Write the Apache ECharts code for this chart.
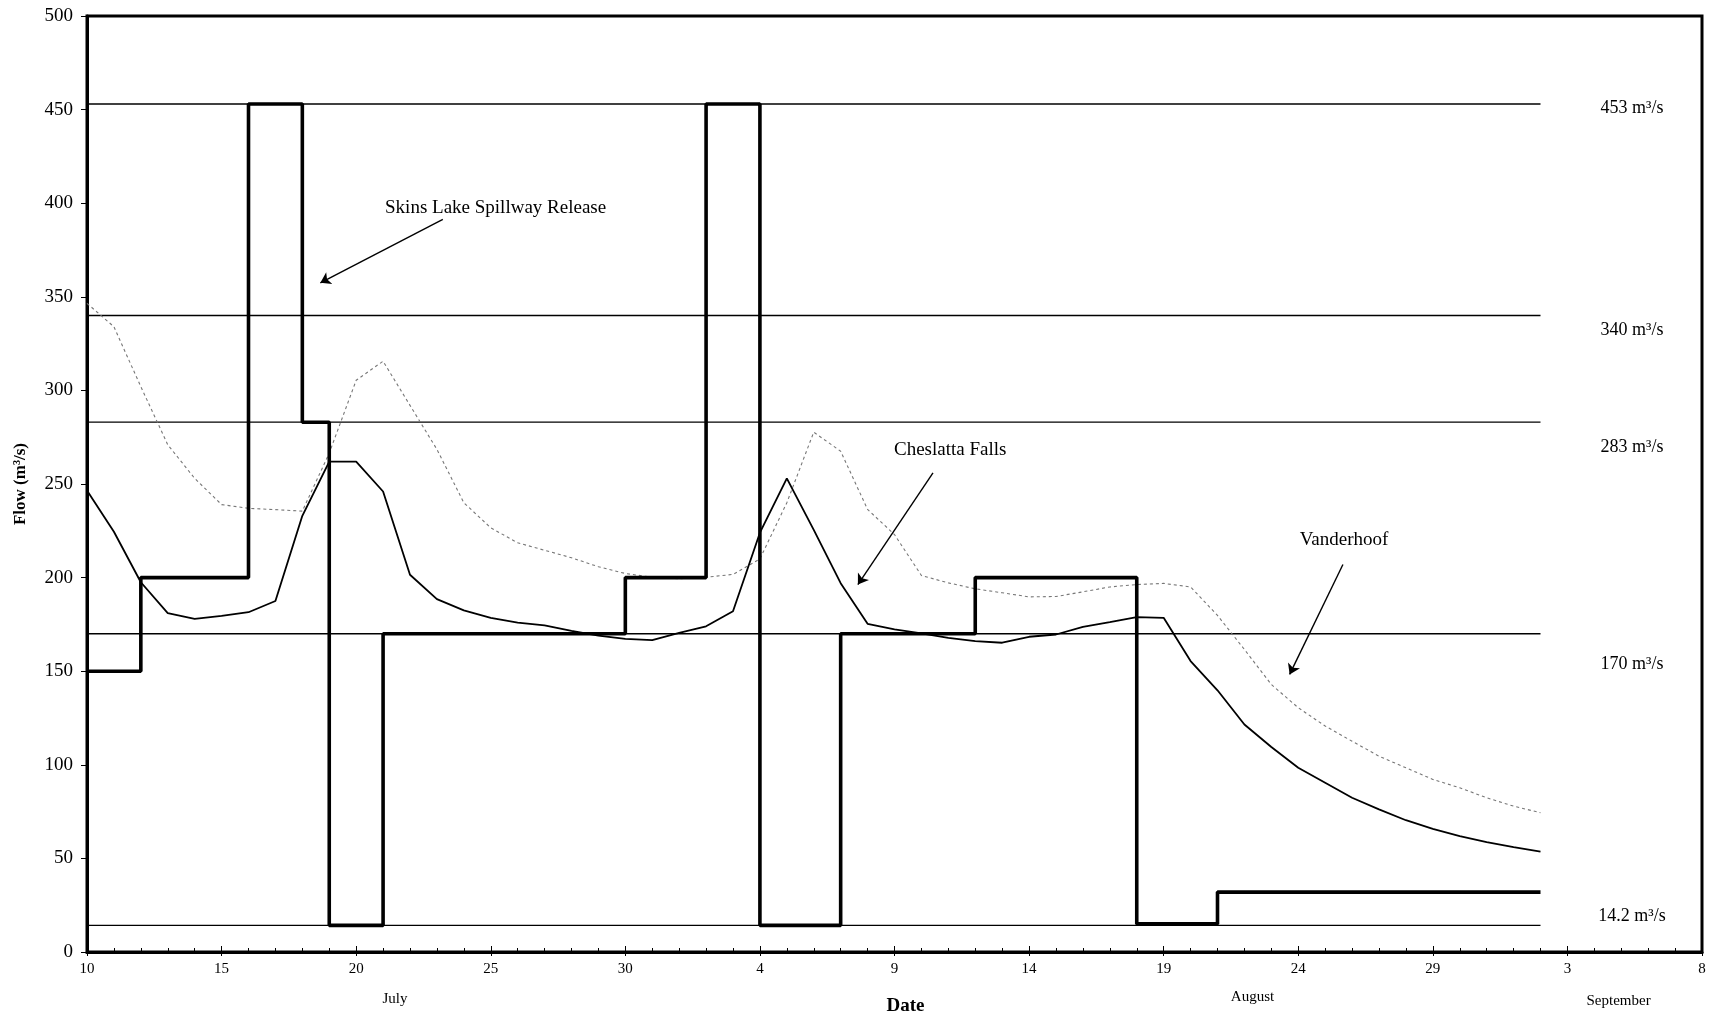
<!DOCTYPE html>
<html>
<head>
<meta charset="utf-8">
<script src="https://cdn.jsdelivr.net/npm/echarts@6/dist/echarts.min.js"></script>
<style>
html,body{margin:0;padding:0;background:#fff;}
#chart{width:1711px;height:1021px;}
</style>
</head>
<body>
<div id="chart"></div>
<script>
// ---- Data (x = days since July 10) ----
const xTickLabels = ['10','15','20','25','30','4','9','14','19','24','29','3','8'];
const monthNames = ['July','August','September'];

// Skins Lake Spillway Release (stepped): start day of each period and its flow
const spillDays   = [0, 2, 6, 8, 9, 11, 20, 23, 25, 28, 33, 39, 42, 54];
const spillFlows  = [150, 200, 453, 283, 14.2, 170, 200, 453, 14.2, 170, 200, 15, 32, 32];

// Cheslatta Falls daily flow (July 10 .. Sept 2)
const cheslatta = [246.5, 224.5, 197.5, 181, 178, 179.5, 181.5, 187.5, 233, 262,
  262, 246, 201.5, 188.5, 182.5, 178.5, 176, 174.5, 171.5, 169,
  167.3, 166.6, 170.5, 174, 182, 224, 253, 225.5, 197, 175.3,
  172.3, 170.2, 167.8, 166.1, 165.2, 168.4, 169.6, 173.7, 176.2, 178.9,
  178.5, 155.4, 139.8, 121.5, 109.5, 98.4, 90.4, 82.4, 76.2, 70.4,
  65.8, 61.9, 58.7, 56, 53.6];

// Vanderhoof daily flow (July 10 .. Sept 2)
const vanderhoof = [346.5, 334, 302, 271, 253, 239, 237, 236.3, 235.5, 266.5,
  305.4, 315.6, 292, 268.5, 240, 226.6, 218.6, 214.6, 210.6, 205.8,
  202.2, 200.2, 199.4, 200.2, 201.7, 210, 240, 277.7, 267.5, 236.4,
  223, 201.1, 197.2, 194, 191.9, 189.7, 189.9, 192.4, 195, 196.3,
  196.9, 195, 179.8, 161.6, 142.9, 130.5, 120.7, 112.6, 104.6, 98.4,
  92.2, 87.7, 82.4, 77.9, 74.4];

// Reference flow levels (m³/s)
const refLevels = [453, 340, 283, 170, 14.2];
const refLabels = ['453 m³/s', '340 m³/s', '283 m³/s', '170 m³/s', '14.2 m³/s'];
const refEndDay = 54;

// ---- Annotation placement (data coordinates) ----
const levelLabelDay = 57.4;
const levelLabelFlow = [450.9, 332, 269.7, 153.6, 19.2];
const notes = [
  {text: 'Skins Lake Spillway Release', day: 15.18, flow: 397.5},
  {text: 'Cheslatta Falls', day: 32.07, flow: 267.9},
  {text: 'Vanderhoof', day: 46.7, flow: 220}
];
const arrows = [
  [[13.22, 391.3], [8.67, 357.5]],
  [[31.43, 256], [28.64, 196.3]],
  [[46.66, 207], [44.68, 148.3]]
];
const monthDays = [11.44, 43.3, 56.9];

const FONT = 'Liberation Serif';
const chart = echarts.init(document.getElementById('chart'), null, {renderer: 'canvas'});

const series = [];
refLevels.forEach((lv, i) => {
  series.push({
    type: 'line', name: refLabels[i], xAxisIndex: 0, yAxisIndex: 0,
    data: [[0, lv], [refEndDay, lv]], showSymbol: false, symbol: 'none',
    lineStyle: {color: '#000', width: 1.3}, silent: true, z: 2, animation: false
  });
});
series.push({
  type: 'line', name: 'Vanderhoof', data: vanderhoof.map((v, i) => [i, v]),
  symbol: 'none', lineStyle: {color: '#777', width: 1.1, type: [3, 3]}, z: 3, animation: false
});
series.push({
  type: 'line', name: 'Cheslatta Falls', data: cheslatta.map((v, i) => [i, v]),
  symbol: 'none', lineStyle: {color: '#000', width: 1.8}, z: 4, animation: false
});
series.push({
  type: 'line', name: 'Skins Lake Spillway Release', step: 'end',
  data: spillDays.map((d, i) => [d, spillFlows[i]]),
  symbol: 'none', lineStyle: {color: '#000', width: 3.6}, z: 5, animation: false
});
series.push({
  type: 'lines', coordinateSystem: 'cartesian2d', xAxisIndex: 0, yAxisIndex: 0,
  data: arrows.map(a => ({coords: a})),
  symbol: ['none', 'arrow'], symbolSize: [0, 10],
  lineStyle: {color: '#000', width: 1.4, opacity: 1}, z: 6, animation: false, silent: true
});

const option = {
  backgroundColor: '#fff',
  animation: false,
  grid: {left: 87, right: 9, top: 16, bottom: 68, show: true,
    borderColor: '#000', borderWidth: 3, backgroundColor: 'transparent'},
  xAxis: [{
    type: 'value', min: 0, max: 60, interval: 5,
    name: 'Date', nameLocation: 'middle', nameGap: 45,
    nameTextStyle: {fontFamily: FONT, fontSize: 19, fontWeight: 'bold', color: '#000',
      padding: [0, 0, 0, 22]},
    axisLine: {show: true, lineStyle: {color: '#000', width: 3}},
    axisTick: {show: true, inside: true, length: 6, lineStyle: {color: '#000', width: 1}},
    minorTick: {show: true, splitNumber: 5, length: 4, lineStyle: {color: '#000', width: 1}},
    axisLabel: {fontFamily: FONT, fontSize: 15, color: '#000', margin: 10,
      formatter: v => xTickLabels[Math.round(v / 5)] || ''},
    splitLine: {show: false}
  }, {
    type: 'value', min: 0, max: 60, interval: 5, position: 'bottom',
    axisLine: {show: false}, axisLabel: {show: false}, splitLine: {show: false},
    axisTick: {show: true, inside: false, length: 4, lineStyle: {color: '#000', width: 1}}
  }],
  yAxis: {
    type: 'value', min: 0, max: 500, interval: 50,
    name: 'Flow (m³/s)', nameLocation: 'middle', nameGap: 58,
    nameTextStyle: {fontFamily: FONT, fontSize: 17, fontWeight: 'bold', color: '#000'},
    axisLine: {show: true, lineStyle: {color: '#000', width: 3}},
    axisTick: {show: true, inside: false, length: 6, lineStyle: {color: '#000', width: 1}},
    axisLabel: {fontFamily: FONT, fontSize: 19, color: '#000', margin: 14},
    splitLine: {show: false}
  },
  series: series
};
chart.setOption(option);

// text annotations placed through the chart's own scales
const graphics = [];
const monthY = [999, 997, 1001];
monthNames.forEach((m, i) => {
  const px = chart.convertToPixel({xAxisIndex: 0}, monthDays[i]);
  graphics.push({type: 'text', x: px, y: monthY[i], z: 10,
    style: {text: m, fontFamily: FONT, fontSize: 15, fill: '#000',
      align: 'center', verticalAlign: 'middle'}});
});
notes.forEach(n => {
  const p = chart.convertToPixel({gridIndex: 0}, [n.day, n.flow]);
  graphics.push({type: 'text', x: p[0], y: p[1], z: 10,
    style: {text: n.text, fontFamily: FONT, fontSize: 19, fill: '#000',
      align: 'center', verticalAlign: 'middle'}});
});
refLabels.forEach((t, i) => {
  const p = chart.convertToPixel({gridIndex: 0}, [levelLabelDay, levelLabelFlow[i]]);
  graphics.push({type: 'text', x: p[0], y: p[1], z: 10,
    style: {text: t, fontFamily: FONT, fontSize: 18, fill: '#000',
      align: 'center', verticalAlign: 'middle'}});
});
chart.setOption({graphic: graphics});
</script>
</body>
</html>
